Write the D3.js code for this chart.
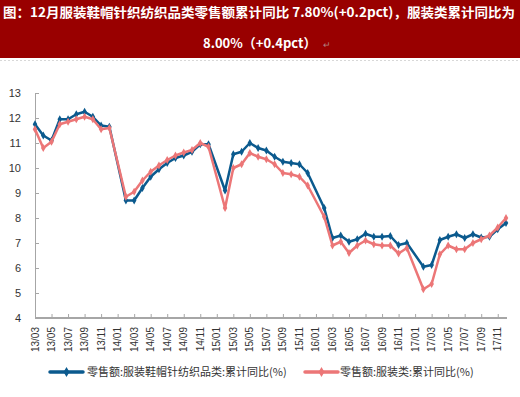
<!DOCTYPE html>
<html>
<head>
<meta charset="utf-8">
<script src="https://cdn.jsdelivr.net/npm/d3@7"></script>
<style>
  body { margin: 0; background: #fff; }
  svg { display: block; }
</style>
</head>
<body>
<svg id="chart" width="520" height="397"></svg>
<script>
// months 13/03 .. 17/12, January has no cumulative value (Jan-Feb reported together)
const months = [];
for (let y = 13; y <= 17; y++) {
    for (let m = (y === 13 ? 3 : 1); m <= 12; m++) {
        months.push(y + "/" + (m < 10 ? "0" + m : m));
    }
}

const apparelShoesValues = [
    11.75, 11.3, 11.1, 11.95, 11.95, 12.15, 12.25, 12.05, 11.7, 11.65,
    null, 8.7, 8.7, 9.2, 9.65, 9.95, 10.2, 10.4, 10.5, 10.65, 10.95, 10.95,
    null, 9.1, 10.55, 10.65, 11.0, 10.8, 10.7, 10.45, 10.25, 10.2, 10.15, 9.8,
    null, 8.4, 7.2, 7.3, 7.05, 7.15, 7.37, 7.25, 7.25, 7.28, 6.92, 7.0,
    null, 6.05, 6.12, 7.12, 7.25, 7.35, 7.2, 7.35, 7.22, 7.25, 7.55, 7.8
];

const apparelValues = [
    11.55, 10.8, 11.05, 11.75, 11.85, 11.95, 12.05, 11.95, 11.55, 11.6,
    null, 8.85, 9.05, 9.5, 9.85, 10.1, 10.32, 10.5, 10.62, 10.72, 11.0, 10.85,
    null, 8.4, 10.0, 10.15, 10.6, 10.45, 10.35, 10.15, 9.8, 9.75, 9.65, 9.3,
    null, 8.05, 6.9, 7.05, 6.6, 6.9, 7.1, 6.95, 6.9, 6.9, 6.58, 6.8,
    null, 5.15, 5.36, 6.55, 6.9, 6.75, 6.75, 7.0, 7.15, 7.3, 7.62, 8.0
];

const yTicks = [4, 5, 6, 7, 8, 9, 10, 11, 12, 13];
const xTickLabels = months.filter((d, i) => i % 2 === 0 && i < months.length - 1);

const series = [
    {name: "零售额:服装鞋帽针纺织品类:累计同比(%)", values: apparelShoesValues, color: "#0b5a8e"},
    {name: "零售额:服装类:累计同比(%)", values: apparelValues, color: "#ec7677"}
];

const titleLine1 = "图：12月服装鞋帽针织纺织品类零售额累计同比 7.80%(+0.2pct)，服装类累计同比为";
const titleLine2 = "8.00%（+0.4pct）";

const svg = d3.select("#chart");

// title band
svg.append("rect")
    .attr("x", 0).attr("y", 0)
    .attr("width", 520).attr("height", 58)
    .attr("fill", "#990000");

svg.append("line")
    .attr("x1", 0).attr("x2", 520)
    .attr("y1", 60.5).attr("y2", 60.5)
    .attr("stroke", "#d8d8d8")
    .attr("stroke-dasharray", "2,2");

svg.append("text")
    .attr("x", 3).attr("y", 17)
    .attr("textLength", 512)
    .attr("lengthAdjust", "spacingAndGlyphs")
    .attr("fill", "#fff")
    .style("font-family", "'Noto Sans CJK SC', sans-serif")
    .style("font-size", "13px")
    .style("font-weight", "bold")
    .text(titleLine1);

const t2 = svg.append("text")
    .attr("x", 203).attr("y", 48)
    .attr("fill", "#fff")
    .style("font-family", "'Noto Sans CJK SC', sans-serif")
    .style("font-size", "13px")
    .style("font-weight", "bold");
t2.append("tspan").text(titleLine2);
t2.append("tspan")
    .attr("dx", 6)
    .attr("fill", "#b08080")
    .style("font-size", "9px")
    .style("font-weight", "normal")
    .text("↵");

// scales
const x = d3.scalePoint()
    .domain(months)
    .range([35, 506]);

const y = d3.scaleLinear()
    .domain([4, 13])
    .range([318, 93]);

const axisColor = "#a6a6a6";

// y axis
const yAxis = svg.append("g")
    .attr("transform", "translate(35,0)")
    .call(d3.axisRight(y).tickValues(yTicks).tickSize(4).tickFormat(""));
yAxis.select(".domain").attr("stroke", axisColor).attr("d", "M0.5,93V318");
yAxis.selectAll(".tick line").attr("stroke", axisColor);

svg.append("g").selectAll("text")
    .data(yTicks)
    .enter().append("text")
    .attr("x", 21)
    .attr("y", d => y(d) + 4)
    .attr("text-anchor", "end")
    .attr("fill", "#333")
    .style("font-family", "Arial, 'Liberation Sans', sans-serif")
    .style("font-size", "11px")
    .text(d => d);

// x axis
const xAxis = svg.append("g")
    .attr("transform", "translate(0,318)")
    .call(d3.axisTop(x).tickValues(xTickLabels).tickSize(4).tickSizeOuter(0).tickFormat(""));
xAxis.select(".domain").attr("stroke", axisColor).attr("stroke-width", 2).attr("d", "M35,0H507");
xAxis.selectAll(".tick line").attr("stroke", axisColor);

svg.append("g").selectAll("text")
    .data(xTickLabels)
    .enter().append("text")
    .attr("transform", d => `translate(${x(d) + 3.5},327) rotate(-90)`)
    .attr("text-anchor", "end")
    .attr("fill", "#333")
    .style("font-family", "Arial, 'Liberation Sans', sans-serif")
    .style("font-size", "10px")
    .text(d => d);

// lines
const line = d3.line()
    .x(d => x(d.month))
    .y(d => y(d.value));

const diamond = d3.symbol().type(d3.symbolDiamond).size(18);

series.forEach(s => {
    const pts = months.map((m, i) => ({month: m, value: s.values[i]}))
        .filter(d => d.value !== null);

    svg.append("path")
        .datum(pts)
        .attr("fill", "none")
        .attr("stroke", s.color)
        .attr("stroke-width", 2.5)
        .attr("stroke-linejoin", "round")
        .attr("d", line);

    svg.append("g").selectAll("path")
        .data(pts)
        .enter().append("path")
        .attr("transform", d => `translate(${x(d.month)},${y(d.value)})`)
        .attr("d", diamond)
        .attr("fill", s.color);
});

// legend
const legendPos = [{lx: 50, tx: 87}, {lx: 305, tx: 340}];
series.forEach((s, i) => {
    const g = svg.append("g");
    g.append("line")
        .attr("x1", legendPos[i].lx).attr("x2", legendPos[i].lx + 33)
        .attr("y1", 372).attr("y2", 372)
        .attr("stroke", s.color)
        .attr("stroke-width", 3.5)
        .attr("stroke-linecap", "round");
    g.append("path")
        .attr("transform", `translate(${legendPos[i].lx + 16.5},372)`)
        .attr("d", d3.symbol().type(d3.symbolDiamond).size(30))
        .attr("fill", s.color);
    g.append("text")
        .attr("x", legendPos[i].tx).attr("y", 376)
        .attr("fill", "#333")
        .style("font-family", "'Noto Sans CJK SC', sans-serif")
        .style("font-size", "11px")
        .text(s.name);
});
</script>
</body>
</html>
